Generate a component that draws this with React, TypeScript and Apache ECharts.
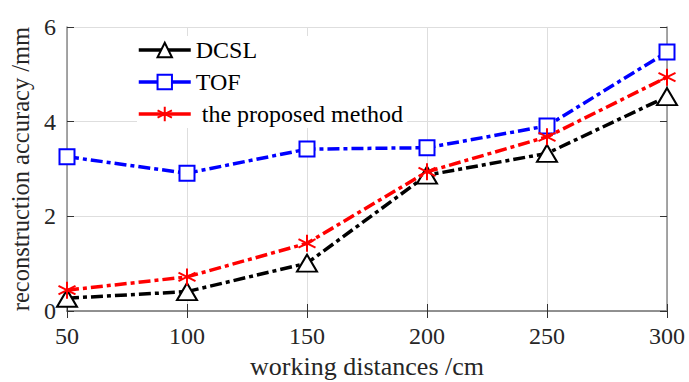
import React, { useEffect, useRef } from "react";
import * as echarts from "echarts";

const distances = [50, 100, 150, 200, 250, 300];
const dcsl = [0.27, 0.41, 1.01, 2.87, 3.33, 4.53];
const tof = [3.26, 2.91, 3.42, 3.45, 3.91, 5.47];
const proposed = [0.44, 0.72, 1.43, 2.94, 3.68, 4.94];
const seriesNames = ["DCSL", "TOF", " the proposed method"];

const ASTERISK = "path://M0,-10L0,10M-8.66,-5L8.66,5M-8.66,5L8.66,-5";

const FONT = "'Liberation Serif', 'Times New Roman', serif";
const DASH = [12, 4, 4, 4];

export default function App() {
  const ref = useRef<HTMLDivElement>(null);
  useEffect(() => {
    if (!ref.current) return;
    const chart = echarts.init(ref.current, undefined, { renderer: "svg" });
    const pairs = (ys: number[]) => distances.map((d, i) => [d, ys[i]]);
    const axisLine = { show: true, lineStyle: { color: "#8a8a8a", width: 1.5 } };
    const tick = { show: true, inside: true, length: 7, lineStyle: { color: "#333", width: 1 } };
    chart.setOption({
      animation: false,
      backgroundColor: "#ffffff",
      grid: {
        left: 67,
        right: 22,
        top: 27,
        bottom: 71,
        containLabel: false,
        outerBoundsMode: "none",
      },
      legend: {
        show: true,
        orient: "vertical",
        left: 137,
        top: 36,
        itemWidth: 52,
        itemHeight: 18,
        itemGap: 8,
        backgroundColor: "#ffffff",
        padding: [2, 4, 2, 0],
        textStyle: { fontFamily: FONT, fontSize: 24, color: "#000" },
        lineStyle: { type: "solid", width: 3.5 },
        data: seriesNames,
      },
      xAxis: [
        {
          type: "value",
          min: 50,
          max: 300,
          interval: 50,
          name: "working distances /cm",
          nameLocation: "middle",
          nameGap: 42,
          nameTextStyle: { fontFamily: FONT, fontSize: 26, color: "#262626" },
          axisLine,
          axisTick: tick,
          axisLabel: { fontFamily: FONT, fontSize: 24, color: "#262626", margin: 13 },
          splitLine: { show: true, lineStyle: { color: "#dedede", width: 1 } },
        },
        {
          type: "value",
          position: "top",
          min: 50,
          max: 300,
          interval: 50,
          axisLine,
          axisTick: tick,
          axisLabel: { show: false },
          splitLine: { show: false },
        },
      ],
      yAxis: [
        {
          type: "value",
          min: 0,
          max: 6,
          interval: 2,
          name: "reconstruction accuracy /mm",
          nameLocation: "middle",
          nameGap: 30,
          nameTextStyle: { fontFamily: FONT, fontSize: 24.5, color: "#262626" },
          axisLine,
          axisTick: tick,
          axisLabel: { fontFamily: FONT, fontSize: 24, color: "#262626", margin: 11 },
          splitLine: { show: true, lineStyle: { color: "#dedede", width: 1 } },
        },
        {
          type: "value",
          position: "right",
          min: 0,
          max: 6,
          interval: 2,
          axisLine,
          axisTick: tick,
          axisLabel: { show: false },
          splitLine: { show: false },
        },
      ],
      series: [
        {
          name: seriesNames[0],
          type: "line",
          data: pairs(dcsl),
          symbol: "triangle",
          symbolSize: [20, 17],
          lineStyle: { color: "#000000", width: 3.5, type: DASH },
          itemStyle: { color: "#ffffff", borderColor: "#000000", borderWidth: 2 },
          z: 2,
        },
        {
          name: seriesNames[1],
          type: "line",
          data: pairs(tof),
          symbol: "rect",
          symbolSize: 15,
          lineStyle: { color: "#0000ff", width: 3.5, type: DASH },
          itemStyle: { color: "#ffffff", borderColor: "#0000ff", borderWidth: 2 },
          z: 3,
        },
        {
          name: seriesNames[2],
          type: "line",
          data: pairs(proposed),
          symbol: ASTERISK,
          symbolSize: 17,
          lineStyle: { color: "#ff0000", width: 3.5, type: DASH },
          itemStyle: { color: "#ff0000", borderColor: "#ff0000", borderWidth: 2 },
          z: 4,
        },
      ],
    });
    return () => chart.dispose();
  }, []);
  return <div ref={ref} style={{ width: 689, height: 382, position: "absolute", left: 0, top: 0 }} />;
}
